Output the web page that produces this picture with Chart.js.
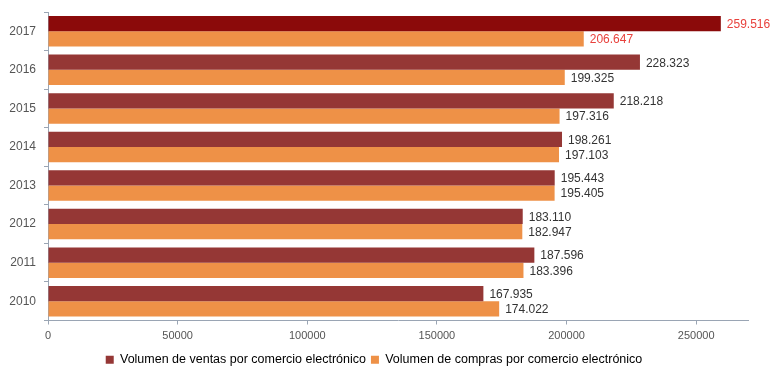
<!DOCTYPE html>
<html>
<head>
<meta charset="utf-8">
<script src="https://cdn.jsdelivr.net/npm/chart.js"></script>
<style>
  html, body { margin: 0; padding: 0; background: #fff; }
  #wrap { width: 778px; height: 376px; }
</style>
</head>
<body>
<div id="wrap"><canvas id="chart" width="778" height="376"></canvas></div>
<script>
// años, de arriba abajo
const years = ['2017', '2016', '2015', '2014', '2013', '2012', '2011', '2010'];
// volumen de ventas por comercio electrónico
const ventas = [259516, 228323, 218218, 198261, 195443, 183110, 187596, 167935];
// volumen de compras por comercio electrónico
const compras = [206647, 199325, 197316, 197103, 195405, 182947, 183396, 174022];
const xTicks = [0, 50000, 100000, 150000, 200000, 250000];

const rojo = '#953735';
const colVentas = years.map(y => y === '2017' ? '#8b0a0a' : rojo);
const colCompras = '#ee9147';
const fuente = '"Liberation Sans", Arial, sans-serif';

// etiqueta con separador de miles "."
function fmt(v) {
  return String(v).replace(/\B(?=(\d{3})+(?!\d))/g, '.');
}

const valueLabels = {
  id: 'valueLabels',
  afterDatasetsDraw(chart) {
    const ctx = chart.ctx;
    ctx.save();
    ctx.font = '12px ' + fuente;
    ctx.textBaseline = 'middle';
    ctx.textAlign = 'left';
    chart.data.datasets.forEach((ds, di) => {
      chart.getDatasetMeta(di).data.forEach((bar, i) => {
        ctx.fillStyle = years[i] === '2017' ? '#e8413c' : '#333333';
        ctx.fillText(fmt(ds.data[i]), bar.x + 6, bar.y + 1);
      });
    });
    ctx.restore();
  }
};

new Chart(document.getElementById('chart'), {
  type: 'bar',
  data: {
    labels: years,
    datasets: [{
      label: 'Volumen de ventas por comercio electrónico',
      data: ventas,
      backgroundColor: colVentas,
      barPercentage: 1,
      categoryPercentage: 0.79
    }, {
      label: 'Volumen de compras por comercio electrónico',
      data: compras,
      backgroundColor: colCompras,
      barPercentage: 1,
      categoryPercentage: 0.79
    }]
  },
  options: {
    indexAxis: 'y',
    responsive: false,
    animation: false,
    layout: { padding: { top: 12, right: 30, left: 0, bottom: 0 } },
    scales: {
      x: {
        min: 0,
        max: 270000,
        afterBuildTicks: s => { s.ticks = xTicks.map(v => ({ value: v })); },
        afterFit: s => { s.height = 28; },
        border: { color: '#9aa5b4', width: 1 },
        grid: { drawOnChartArea: false, tickLength: 4, color: '#9aa5b4' },
        ticks: {
          color: '#555',
          font: { family: fuente, size: 11 },
          padding: 5,
          maxRotation: 0,
          callback: v => String(v)
        }
      },
      y: {
        afterFit: s => { s.width = 48; s.paddingTop = 0; s.paddingBottom = 0; },
        border: { color: '#9aa5b4', width: 1 },
        grid: { drawOnChartArea: false, tickLength: 4, color: '#9aa5b4', offset: true },
        ticks: {
          color: '#555',
          font: { family: fuente, size: 12 },
          padding: 8
        }
      }
    },
    plugins: {
      tooltip: { enabled: false },
      legend: {
        position: 'bottom',
        labels: {
          boxWidth: 8,
          boxHeight: 8,
          padding: 5,
          color: '#333',
          font: { family: fuente, size: 12.5 },
          generateLabels: chart => chart.data.datasets.map((ds, i) => ({
            text: ds.label,
            fillStyle: i === 0 ? rojo : colCompras,
            strokeStyle: 'transparent',
            lineWidth: 0,
            datasetIndex: i
          }))
        }
      }
    }
  },
  plugins: [valueLabels]
});
</script>
</body>
</html>
